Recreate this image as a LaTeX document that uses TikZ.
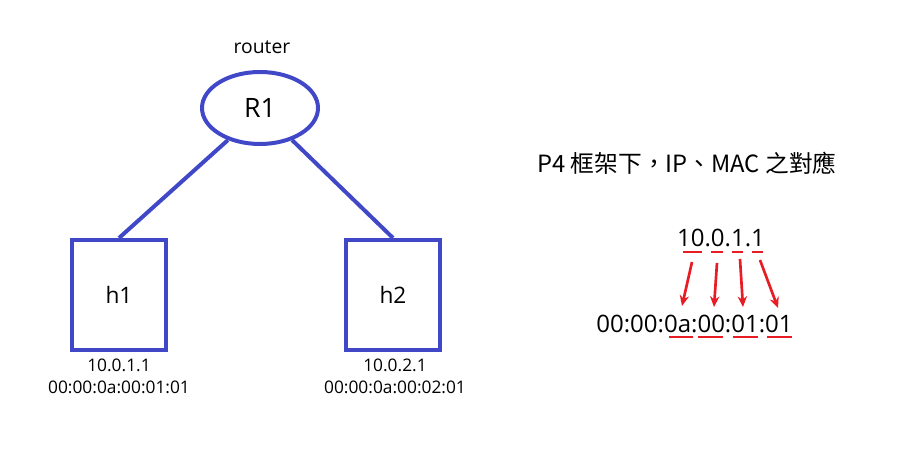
\documentclass[tikz,border=0pt]{standalone}
\usepackage{fontspec}
\setmainfont{Open Sans}
\newfontfamily\cjkfont{Noto Sans CJK TC}
\usetikzlibrary{shapes.geometric,arrows.meta}
\definecolor{netblue}{RGB}{64,72,200}
\definecolor{mapred}{RGB}{232,28,36}
\tikzset{
  hostbox/.style={draw=netblue,line width=3pt,minimum width=70.5pt,minimum height=82.5pt,inner sep=0pt,font=\fontsize{17}{20}\selectfont},
  routerell/.style={draw=netblue,line width=3pt,ellipse,minimum width=87pt,minimum height=54pt,inner sep=0pt,font=\fontsize{20}{24}\selectfont},
  link/.style={draw=netblue,line width=3pt},
  lbl/.style={inner sep=0pt,font=\fontsize{13}{15}\selectfont},
  big/.style={inner sep=0pt,font=\fontsize{18}{21}\selectfont},
  uline/.style={draw=mapred,line width=2pt},
  maparrow/.style={draw=mapred,line width=2pt,-{Stealth[length=8pt,width=7pt]}}
}
\begin{document}
\begin{tikzpicture}[x=0.75pt,y=-0.75pt]
\useasboundingbox (0,0) rectangle (922,473);
% router
\node[routerell] (r1) at (260,108) {R1};
\node[lbl,font=\fontsize{14.5}{17}\selectfont] (rlabel) at (262,47) {router};
% hosts
\node[hostbox] (h1) at (119,295) {h1};
\node[hostbox] (h2) at (393,295) {h2};
\draw[link] (r1.-135) -- (h1.north);
\draw[link] (r1.-45) -- (h2.north);
\node[lbl] (h1ip) at (119,365) {10.0.1.1};
\node[lbl] (h1mac) at (119,387) {00:00:0a:00:01:01};
\node[lbl] (h2ip) at (395,365) {10.0.2.1};
\node[lbl] (h2mac) at (395,387) {00:00:0a:00:02:01};
% title
\node[inner sep=0pt,font=\cjkfont\fontsize{17.8}{21}\selectfont] (title) at (687,163) {P4 框架下，IP、MAC 之對應};
% mapping
\node[big] (ip) at (721,238) {10.0.1.1};
\node[big] (mac) at (694.5,324) {00:00:0a:00:01:01};
% underlines top
\coordinate (a1) at (683,252); \coordinate (a2) at (702,252);
\coordinate (b1) at (711,252); \coordinate (b2) at (723,252);
\coordinate (c1) at (732,252); \coordinate (c2) at (743,252);
\coordinate (d1) at (752,252); \coordinate (d2) at (763,252);
\draw[uline] (a1) -- (a2); \draw[uline] (b1) -- (b2);
\draw[uline] (c1) -- (c2); \draw[uline] (d1) -- (d2);
% underlines bottom
\coordinate (e1) at (669,337); \coordinate (e2) at (693,337);
\coordinate (f1) at (698,337); \coordinate (f2) at (723,337);
\coordinate (g1) at (733,337); \coordinate (g2) at (758,337);
\coordinate (k1) at (767,337); \coordinate (k2) at (792,337);
\draw[uline] (e1) -- (e2); \draw[uline] (f1) -- (f2);
\draw[uline] (g1) -- (g2); \draw[uline] (k1) -- (k2);
% arrows
\coordinate (s1) at (692,262); \coordinate (t1) at (682,306);
\coordinate (s2) at (717,263); \coordinate (t2) at (714,307);
\coordinate (s3) at (740,259); \coordinate (t3) at (743,307);
\coordinate (s4) at (760,260); \coordinate (t4) at (778,308);
\draw[maparrow] (s1) -- (t1);
\draw[maparrow] (s2) -- (t2);
\draw[maparrow] (s3) -- (t3);
\draw[maparrow] (s4) -- (t4);
\end{tikzpicture}
\end{document}
